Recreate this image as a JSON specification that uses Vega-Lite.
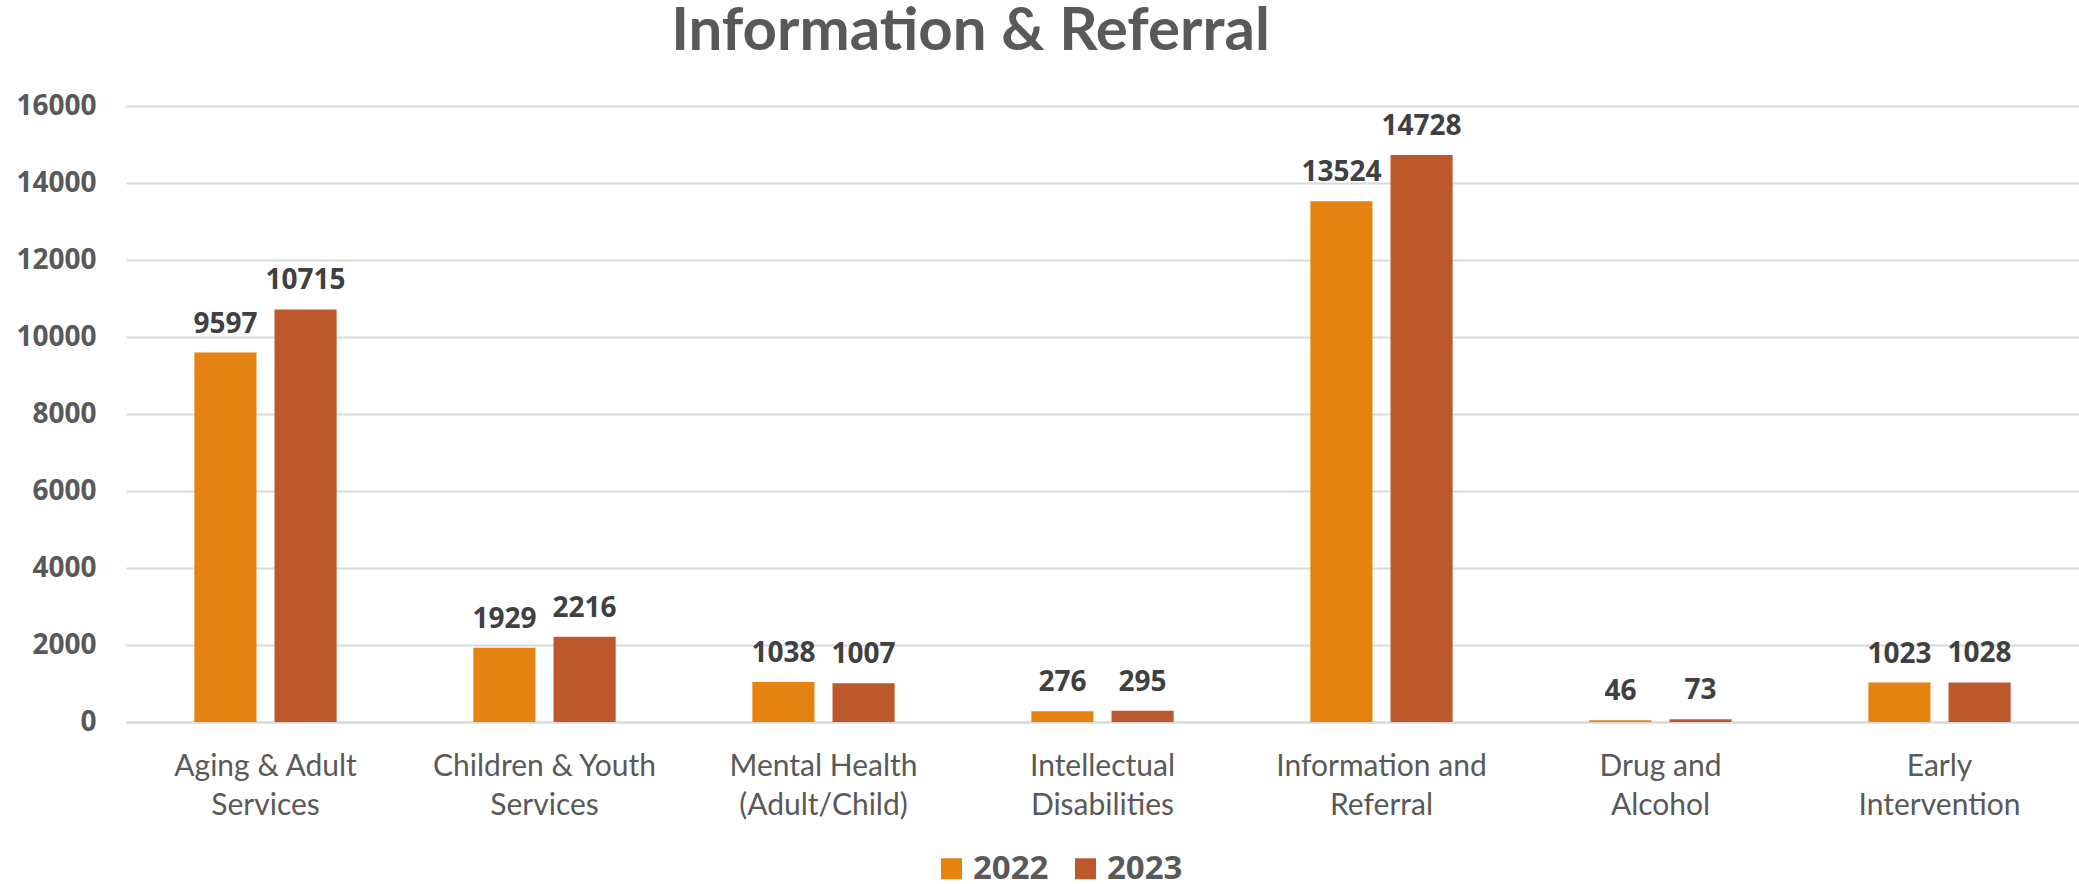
{
  "$schema": "https://vega.github.io/schema/vega-lite/v6.json",
  "autosize": "none",
  "width": 1953,
  "height": 616,
  "padding": {"left": 126, "top": 106, "right": 0, "bottom": 162},
  "background": "white",
  "title": {
    "text": "Information & Referral",
    "font": "Lato",
    "fontSize": 60,
    "fontWeight": "bold",
    "color": "#595959",
    "anchor": "middle",
    "dx": -132,
    "offset": -18,
    "baseline": "alphabetic"
  },
  "data": {
    "values": [
      {"category": "Aging & Adult Services", "year": "2022", "value": 9597},
      {"category": "Aging & Adult Services", "year": "2023", "value": 10715},
      {"category": "Children & Youth Services", "year": "2022", "value": 1929},
      {"category": "Children & Youth Services", "year": "2023", "value": 2216},
      {"category": "Mental Health (Adult/Child)", "year": "2022", "value": 1038},
      {"category": "Mental Health (Adult/Child)", "year": "2023", "value": 1007},
      {"category": "Intellectual Disabilities", "year": "2022", "value": 276},
      {"category": "Intellectual Disabilities", "year": "2023", "value": 295},
      {"category": "Information and Referral", "year": "2022", "value": 13524},
      {"category": "Information and Referral", "year": "2023", "value": 14728},
      {"category": "Drug and Alcohol", "year": "2022", "value": 46},
      {"category": "Drug and Alcohol", "year": "2023", "value": 73},
      {"category": "Early Intervention", "year": "2022", "value": 1023},
      {"category": "Early Intervention", "year": "2023", "value": 1028}
    ]
  },
  "encoding": {
    "x": {
      "field": "category",
      "type": "nominal",
      "sort": null,
      "scale": {"paddingInner": 0.49, "paddingOuter": 0.245},
      "axis": {
        "title": null,
        "domain": true,
        "domainColor": "#D9D9D9",
        "domainWidth": 2,
        "ticks": false,
        "grid": false,
        "labelAngle": 0,
        "labelFont": "Lato",
        "labelFontSize": 30,
        "labelColor": "#595959",
        "labelPadding": 29,
        "labelLineHeight": 39,
        "labelBaseline": "top",
        "labelLimit": 500,
        "labelExpr": "[slice(datum.label, 0, lastindexof(datum.label, ' ')), slice(datum.label, lastindexof(datum.label, ' ') + 1)]"
      }
    },
    "xOffset": {
      "field": "year",
      "type": "nominal",
      "scale": {"paddingInner": 0.225, "paddingOuter": 0}
    },
    "y": {
      "field": "value",
      "type": "quantitative",
      "scale": {"domain": [0, 16000], "nice": false},
      "axis": {
        "title": null,
        "domain": false,
        "ticks": false,
        "grid": true,
        "gridColor": "#D9D9D9",
        "gridWidth": 2,
        "values": [0, 2000, 4000, 6000, 8000, 10000, 12000, 14000, 16000],
        "format": "d",
        "labelFont": "Open Sans",
        "labelFontSize": 28,
        "labelFontWeight": "bold",
        "labelColor": "#595959",
        "labelPadding": 30
      }
    }
  },
  "layer": [
    {
      "mark": {"type": "bar"},
      "encoding": {
        "color": {
          "field": "year",
          "type": "nominal",
          "scale": {"domain": ["2022", "2023"], "range": ["#E48312", "#BD582C"]},
          "legend": {
            "title": null,
            "orient": "none",
            "legendX": 809,
            "legendY": 746,
            "direction": "horizontal",
            "symbolType": "square",
            "symbolSize": 441,
            "symbolStrokeWidth": 0,
            "labelFont": "Open Sans",
            "labelFontSize": 33,
            "labelFontWeight": "bold",
            "labelColor": "#595959",
            "labelOffset": 5,
            "columnPadding": 20
          }
        }
      }
    },
    {
      "mark": {
        "type": "text",
        "baseline": "alphabetic",
        "dy": -20,
        "font": "Open Sans",
        "fontWeight": "bold",
        "fontSize": 28,
        "color": "#404040"
      },
      "encoding": {
        "text": {"field": "value", "type": "quantitative", "format": "d"}
      }
    }
  ],
  "config": {"view": {"stroke": null}}
}
